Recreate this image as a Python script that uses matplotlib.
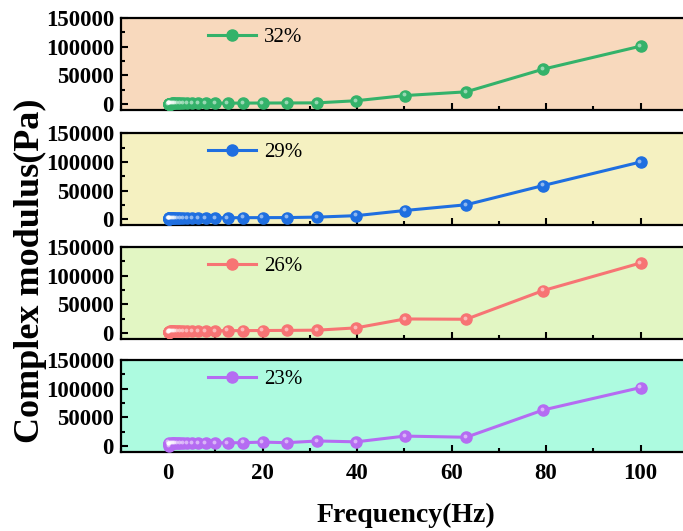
import numpy as np
import matplotlib.pyplot as plt
import matplotlib.transforms as mtransforms
from matplotlib.ticker import MultipleLocator

plt.rcParams['font.family'] = ['Liberation Serif', 'DejaVu Serif']

freq = [0.1, 0.126, 0.158, 0.2, 0.251, 0.316, 0.398, 0.501, 0.631, 0.794,
        1.0, 1.26, 1.58, 2.0, 2.51, 3.16, 3.98, 5.01, 6.31, 7.94,
        10.0, 12.6, 15.8, 20.0, 25.1, 31.6, 39.8, 50.1, 63.1, 79.4, 100.0]

m32 = [800, 850, 900, 950, 1000, 1000, 1050, 1100, 1150, 1200,
       1250, 1300, 1350, 1400, 1450, 1500, 1550, 1600, 1650, 1700,
       1750, 1800, 1900, 2000, 2100, 2300, 6000, 15000, 21500, 61000, 101000]
m29 = [1500, 1550, 1600, 1650, 1700, 1750, 1800, 1850, 1900, 1950,
       2000, 2050, 2100, 2150, 2200, 2300, 2400, 2500, 2600, 2700,
       2800, 2900, 3000, 3100, 3200, 4000, 6500, 15500, 25500, 59000, 100000]
m26 = [1500, 1800, 2000, 2200, 2400, 2500, 2600, 2700, 2800, 2900,
       3000, 3100, 3200, 3300, 3400, 3500, 3600, 3700, 3800, 3900,
       4000, 4100, 4200, 4400, 4600, 5000, 9000, 24500, 24000, 74000, 122000]
m23 = [6000, 500, 3000, 3500, 3800, 4000, 4200, 4400, 4500, 4600,
       4700, 4800, 4900, 5000, 5100, 5200, 5300, 5400, 5500, 5600,
       5700, 5800, 6000, 7000, 6000, 9000, 7500, 17500, 15500, 63000, 102000]

labels = ['32%', '29%', '26%', '23%']
series = [m32, m29, m26, m23]
line_colors = ['#34b26a', '#1f6fe0', '#f77474', '#b56cf2']
bg_colors = ['#f8d9bd', '#f5f1c1', '#e2f6c3', '#adfbe0']

fig = plt.figure(figsize=(6.83, 5.31), dpi=100)

bottoms = [0.793, 0.576, 0.362, 0.149]
height = 0.173
for i in range(4):
    ax = fig.add_axes([0.177, bottoms[i], 0.830, height])
    ax.set_facecolor(bg_colors[i])
    ax.plot(freq, series[i], '-o', color=line_colors[i], lw=2.2, ms=8,
            mec=line_colors[i], label=labels[i], zorder=3)
    # small glossy highlight on the spheres
    hl = mtransforms.offset_copy(ax.transData, fig=fig, x=-1.2, y=1.2, units='dots')
    ax.plot(freq, series[i], 'o', color='white', alpha=0.5, ms=2.8,
            mec='none', zorder=4, transform=hl)
    ax.set_xlim(-10, 110)
    ax.set_ylim(-10000, 150000)
    ax.set_yticks([0, 50000, 100000, 150000])
    ax.yaxis.set_minor_locator(MultipleLocator(25000))
    ax.xaxis.set_major_locator(MultipleLocator(20))
    ax.xaxis.set_minor_locator(MultipleLocator(10))
    ax.tick_params(which='both', direction='in', width=1.5)
    ax.tick_params(which='major', length=5)
    ax.tick_params(which='minor', length=3)
    ax.tick_params(axis='y', labelsize=16.5, pad=5)
    ax.tick_params(axis='x', labelsize=16.5, pad=8)
    for lab in ax.get_xticklabels() + ax.get_yticklabels():
        lab.set_fontweight('bold')
    for s in ax.spines.values():
        s.set_linewidth(1.6)
    if i < 3:
        ax.tick_params(axis='x', labelbottom=False)
    ax.legend(loc='upper left', bbox_to_anchor=(0.12, 1.10), frameon=False,
              fontsize=15, handlelength=2.3, handletextpad=0.4)

fig.text(0.045, 0.49, 'Complex modulus(Pa)', rotation=90, ha='center', va='center',
         fontsize=26, fontweight='bold')
fig.text(0.594, 0.03, 'Frequency(Hz)', ha='center', va='center',
         fontsize=20, fontweight='bold')

fig.savefig('out.png', dpi=100)
